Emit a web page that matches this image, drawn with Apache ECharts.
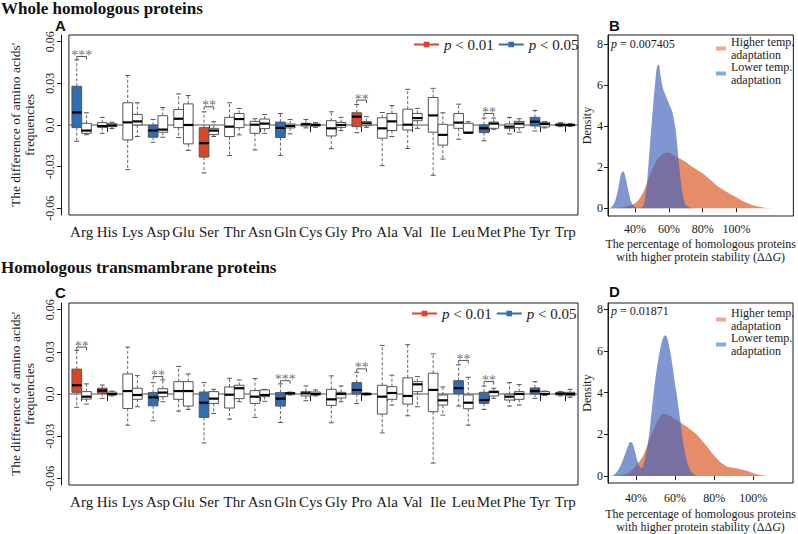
<!DOCTYPE html>
<html><head><meta charset="utf-8">
<script src="https://cdn.jsdelivr.net/npm/echarts@6/dist/echarts.min.js"></script>
<style>html,body{margin:0;padding:0;background:#fff}#c{width:798px;height:534px}</style>
</head><body><div id="c"></div>
<script>
// ---------------- data ----------------
const categories = ['Arg','His','Lys','Asp','Glu','Ser','Thr','Asn','Gln','Cys','Gly','Pro','Ala','Val','Ile','Leu','Met','Phe','Tyr','Trp'];
const yTickValues = [-0.06, -0.03, 0, 0.03, 0.06];
const yTickLabels = ['-0.06', '-0.03', '0.0', '0.03', '0.06'];
const densXTicks = [40, 60, 80, 100];
const densYTicks = [0, 2, 4, 6, 8];
const zeroRef = [0];
const pLegendNames = ['p < 0.01', 'p < 0.05'];
const densNames = ['Higher temp.\nadaptation', 'Lower temp.\nadaptation'];
const pTextB = '0.007405';
const pTextD = '0.01871';

// Panel A: [min, q1, median, q3, max]
const A_left = [
  [-0.0117,-0.0019,0.009,0.0279,0.0469],
  [-0.006,-0.0017,-0.0007,0.0017,0.0055],
  [-0.0321,-0.0107,0.0019,0.016,0.0357],
  [-0.0124,-0.0088,-0.004,-0.0002,0.004],
  [-0.009,-0.0019,0.0045,0.0112,0.0224],
  [-0.0345,-0.0231,-0.0131,-0.0019,0.0095],
  [-0.022,-0.0083,-0.0012,0.0055,0.016],
  [-0.0179,-0.006,0.0002,0.0026,0.0045],
  [-0.0219,-0.009,-0.0021,0.0021,0.0083],
  [-0.0021,-0.0007,0.0005,0.0012,0.004],
  [-0.0171,-0.0079,-0.0024,0.0031,0.0095],
  [-0.0055,-0.0012,0.006,0.0088,0.0148],
  [-0.0293,-0.0095,-0.0024,0.0052,0.009],
  [-0.0169,-0.0036,0.0002,0.0114,0.0257],
  [-0.0362,-0.0052,0.0069,0.0198,0.0264],
  [-0.0102,-0.0024,0.0017,0.0083,0.015],
  [-0.0114,-0.0055,-0.0024,0.0,0.005],
  [-0.0064,-0.0026,-0.0012,0.0007,0.0055],
  [-0.0043,-0.0007,0.0024,0.0055,0.0105],
  [-0.0012,-0.0007,0.0002,0.0007,0.0017]
];
const A_right = [
  [-0.007,-0.006,-0.004,0.0012,0.0088],
  [-0.0025,-0.0012,-0.0003,0.001,0.002],
  [-0.0083,0.0,0.0026,0.0076,0.016],
  [-0.0088,-0.0052,-0.0033,0.0067,0.0126],
  [-0.0183,-0.0136,0.0,0.0152,0.0212],
  [-0.0083,-0.0069,-0.004,-0.0024,0.0024],
  [-0.0071,-0.0019,0.0043,0.0083,0.0119],
  [-0.006,-0.0026,0.001,0.0043,0.0076],
  [-0.0064,-0.0021,-0.0007,0.0007,0.004],
  [-0.0017,-0.0007,0.0,0.0007,0.0017],
  [-0.004,-0.0017,0.0,0.0019,0.0055],
  [-0.0017,-0.0005,0.0012,0.0024,0.006],
  [-0.0083,-0.004,0.0026,0.0083,0.014],
  [-0.0024,0.0031,0.005,0.0083,0.0119],
  [-0.0245,-0.0145,-0.0071,0.0005,0.0088],
  [-0.006,-0.0057,-0.0055,0.0012,0.0024],
  [-0.0031,-0.0024,0.001,0.0021,0.005],
  [-0.0052,-0.0019,0.001,0.0026,0.0045],
  [-0.0021,-0.0014,0.0007,0.0019,0.0024],
  [-0.001,-0.0005,0.0,0.0005,0.001]
];
const A_colors = ['b','w','w','b','w','r','w','w','b','w','w','r','w','w','w','w','b','w','b','w'];
const A_sig = [['Arg',0.0493,'***'],['Ser',0.0131,'**'],['Pro',0.0179,'**'],['Met',0.0083,'**']];

// Panel C
const C_left = [
  [-0.0095,0.0012,0.0062,0.0177,0.031],
  [-0.0031,0.0005,0.0024,0.0041,0.0064],
  [-0.0222,-0.0103,0.0021,0.0143,0.0334],
  [-0.0191,-0.0084,-0.0024,0.001,0.0081],
  [-0.0122,-0.0038,0.0021,0.0088,0.0196],
  [-0.0348,-0.0167,-0.0062,0.0014,0.0081],
  [-0.0179,-0.01,-0.0005,0.005,0.0112],
  [-0.0167,-0.0067,-0.0019,0.0024,0.011],
  [-0.0203,-0.0086,-0.0033,0.001,0.0072],
  [-0.0048,-0.0014,0.0005,0.0017,0.0057],
  [-0.0205,-0.0081,-0.0038,0.0033,0.0129],
  [-0.0067,0.0,0.0029,0.0081,0.0155],
  [-0.0277,-0.0143,-0.0019,0.0062,0.0346],
  [-0.0155,-0.0072,-0.0014,0.0115,0.0351],
  [-0.0492,-0.0126,0.0029,0.0148,0.0286],
  [-0.0086,0.0002,0.0041,0.0095,0.0208],
  [-0.011,-0.0067,-0.0043,0.0012,0.0057],
  [-0.0086,-0.0043,-0.0019,-0.0002,0.0081],
  [-0.0031,0.0,0.0021,0.0043,0.0088],
  [-0.0014,-0.0007,0.0002,0.0012,0.0017]
];
const C_right = [
  [-0.0072,-0.0036,-0.0019,0.0017,0.0072],
  [-0.0014,-0.0007,0.0,0.0014,0.0021],
  [-0.0091,-0.0038,-0.0007,0.0041,0.0131],
  [-0.0055,-0.0019,0.001,0.0038,0.01],
  [-0.011,-0.0086,0.0021,0.0088,0.0143],
  [-0.0138,-0.0067,-0.0033,0.0017,0.0033],
  [-0.0055,-0.0033,0.0041,0.0062,0.01],
  [-0.0052,-0.0019,-0.0007,0.0029,0.0033],
  [-0.0007,-0.0002,0.0005,0.001,0.0014],
  [-0.0014,-0.0007,0.0,0.0014,0.0029],
  [-0.0055,-0.0029,0.0,0.0012,0.0057],
  [-0.0007,-0.0005,0.0,0.0005,0.0007],
  [-0.0079,-0.0038,0.0007,0.0052,0.0134],
  [-0.0091,0.0017,0.0069,0.0088,0.0124],
  [-0.015,-0.0079,-0.0045,-0.0007,0.005],
  [-0.0222,-0.0105,-0.0062,-0.0007,0.0119],
  [-0.0031,-0.0014,0.0014,0.0021,0.0041],
  [-0.0079,-0.0038,0.0,0.0017,0.0067],
  [-0.001,-0.0002,0.0,0.0017,0.0021],
  [-0.0024,-0.0012,0.0,0.0012,0.0033]
];
const C_colors = ['r','r','w','b','w','b','w','w','b','w','w','b','w','w','w','b','b','w','b','w'];
const C_sig = [['Arg',0.0334,'**'],['Asp',0.0124,'**'],['Gln',0.0095,'***'],['Pro',0.0179,'**'],['Leu',0.0239,'**'],['Met',0.0088,'**']];

// Density panels: [percentage, density]
const B_high = [[24,0],[30,0.02],[34,0.06],[38,0.15],[40,0.25],[42,0.4],[44,0.65],[46,1.0],[48,1.45],[50,1.85],[52,2.2],[54,2.45],[56,2.62],[58,2.7],[60,2.7],[62,2.63],[64,2.52],[66,2.43],[68,2.35],[70,2.25],[72,2.12],[74,2.0],[76,1.9],[78,1.8],[80,1.7],[82,1.56],[84,1.42],[86,1.27],[88,1.12],[90,1.0],[92,0.9],[94,0.8],[96,0.7],[98,0.6],[100,0.52],[103,0.38],[106,0.26],[109,0.16],[112,0.09],[115,0.04],[118,0.015],[122,0]];
const B_low = [[24,0],[26,0.05],[28,0.3],[30,0.95],[31,1.4],[32,1.72],[33,1.8],[34,1.62],[35,1.25],[36,0.85],[37,0.5],[38,0.25],[40,0.06],[42,0.02],[44,0.05],[45,0.15],[46,0.5],[47,1.2],[48,2.2],[49,3.3],[50,4.3],[51,5.3],[52,6.2],[53,6.9],[54,7.0],[55,6.5],[56,6.0],[57,5.7],[58,5.5],[59,5.3],[60,5.1],[61,4.9],[62,4.7],[63,4.3],[64,3.8],[65,3.0],[66,2.1],[67,1.3],[68,0.7],[69,0.35],[70,0.15],[72,0.03],[75,0]];
const D_high = [[30,0],[33,0.05],[36,0.15],[38,0.3],[40,0.5],[42,0.72],[44,1.05],[46,1.5],[48,2.0],[50,2.45],[52,2.8],[54,2.97],[56,2.95],[58,2.85],[60,2.73],[62,2.6],[64,2.48],[66,2.36],[68,2.22],[70,2.08],[72,1.9],[74,1.68],[76,1.45],[78,1.2],[80,0.98],[82,0.78],[84,0.6],[86,0.48],[88,0.42],[90,0.39],[92,0.36],[94,0.32],[96,0.27],[98,0.21],[100,0.14],[102,0.09],[104,0.05],[106,0.02],[109,0]];
const D_low = [[27,0],[29,0.08],[31,0.3],[33,0.7],[35,1.2],[36,1.45],[37,1.62],[38,1.6],[39,1.35],[40,1.0],[41,0.65],[42,0.42],[43,0.4],[44,0.6],[45,1.0],[46,1.55],[47,2.2],[48,3.1],[49,3.95],[50,4.7],[51,5.35],[52,5.9],[53,6.35],[54,6.65],[55,6.75],[56,6.6],[57,6.2],[58,5.7],[59,5.05],[60,4.4],[61,3.8],[62,3.1],[63,2.45],[64,1.7],[65,1.15],[66,0.75],[67,0.45],[68,0.25],[70,0.06],[72,0]];

// ---------------- styling ----------------
const FONT = 'Liberation Serif';
const SANS = 'Liberation Sans';
const INK = '#1a1a1a';
const FILL = { r: '#d8472b', b: '#2f6db5', w: '#ffffff' };
const RED = '#d8472b', BLUE = '#2f6db5';
const ORANGE = '#e68c69', DBLUE = 'rgb(66,98,188)';

function boxRender(side, cols) {
  return function (params, api) {
    const i = api.value(0);
    const band = api.size([1, 0])[0];
    const w = band * 0.38;
    const cx = api.coord([i, 0])[0];
    const x0 = side === 0 ? cx - w : cx;
    const xm = x0 + w / 2;
    const yv = k => api.coord([i, api.value(k)])[1];
    const yMin = yv(1), yQ1 = yv(2), yMed = yv(3), yQ3 = yv(4), yMax = yv(5);
    const cap = w * 0.25;
    const st = { stroke: '#555', lineWidth: 1, fill: null };
    const dash = { stroke: '#666', lineWidth: 1, lineDash: [3, 2], fill: null };
    return {
      type: 'group',
      children: [
        { type: 'line', shape: { x1: xm, y1: yQ3, x2: xm, y2: yMax }, style: dash },
        { type: 'line', shape: { x1: xm, y1: yQ1, x2: xm, y2: yMin }, style: dash },
        { type: 'line', shape: { x1: xm - cap, y1: yMax, x2: xm + cap, y2: yMax }, style: st },
        { type: 'line', shape: { x1: xm - cap, y1: yMin, x2: xm + cap, y2: yMin }, style: st },
        { type: 'rect', shape: { x: x0, y: yQ3, width: w, height: Math.max(yQ1 - yQ3, 1) },
          style: { fill: FILL[cols[params.dataIndex]], stroke: '#555', lineWidth: 1 } },
        { type: 'line', shape: { x1: x0, y1: yMed, x2: x0 + w, y2: yMed }, style: { stroke: '#000', lineWidth: 2.2 } }
      ]
    };
  };
}
function bracketRender(params, api) {
  const i = api.value(0);
  const band = api.size([1, 0])[0];
  const w = band * 0.38;
  const p = api.coord([i, api.value(1)]);
  const cx = p[0], y = p[1];
  const xl = cx - w / 2, xr = cx + w / 2;
  return { type: 'polyline', shape: { points: [[xl, y + 3], [xl, y], [xr, y], [xr, y + 3]] },
    style: { stroke: '#555', fill: null, lineWidth: 1 } };
}
function zeroRender(params, api) {
  const y = api.coord([0, api.value(1)])[1];
  const cs = params.coordSys;
  return { type: 'line', shape: { x1: cs.x, y1: y, x2: cs.x + cs.width, y2: y },
    style: { stroke: '#8a8a8a', lineWidth: 1.5 } };
}
function yLabel(v) {
  const k = yTickValues.findIndex(t => Math.abs(t - v) < 1e-9);
  return k >= 0 ? yTickLabels[k] : '';
}
function boxXAxis(g) {
  return { gridIndex: g, type: 'category', data: categories,
    axisLine: { show: false },
    axisTick: { show: true, alignWithLabel: true, length: 7, lineStyle: { color: INK } },
    axisLabel: { interval: 0, margin: 9, fontSize: 15, fontFamily: FONT, color: INK },
    splitLine: { show: false } };
}
function boxYAxis(g) {
  return { gridIndex: g, type: 'value', min: -0.0648, max: 0.0648, offset: 8,
    axisLine: { show: true, lineStyle: { color: INK } },
    axisTick: { show: true, length: 4, customValues: yTickValues, lineStyle: { color: INK } },
    axisLabel: { customValues: yTickValues, rotate: 90, margin: 5, formatter: yLabel,
      fontSize: 12, fontFamily: FONT, color: INK },
    splitLine: { show: false },
    name: "The difference of amino acids'\nfrequencies", nameLocation: 'middle', nameRotate: 90, nameGap: 23,
    nameTextStyle: { fontSize: 13.5, lineHeight: 14, fontFamily: FONT, color: INK } };
}
function densXAxis(g, mn, mx, margin, gap) {
  return { gridIndex: g, type: 'value', min: mn, max: mx,
    axisLine: { show: false },
    axisTick: { show: true, length: 4, customValues: densXTicks, lineStyle: { color: INK } },
    axisLabel: { customValues: densXTicks, formatter: '{value}%', margin: margin, fontSize: 12, fontFamily: FONT, color: INK },
    splitLine: { show: false },
    name: 'The percentage of homologous proteins\nwith higher protein stability (ΔΔ{i|G})',
    nameLocation: 'middle', nameGap: gap,
    nameTextStyle: { fontSize: 12, lineHeight: 13, fontFamily: FONT, color: INK,
      rich: { i: { fontSize: 12, lineHeight: 13, fontFamily: FONT, fontStyle: 'italic', color: INK } } } };
}
function densYAxis(g, mn, mx) {
  return { gridIndex: g, type: 'value', min: mn, max: mx,
    axisLine: { show: true, lineStyle: { color: INK } },
    axisTick: { show: true, length: 4, customValues: densYTicks, lineStyle: { color: INK } },
    axisLabel: { customValues: densYTicks, margin: 5, fontSize: 12, fontFamily: FONT, color: INK },
    splitLine: { show: false },
    name: 'Density', nameLocation: 'middle', nameRotate: 90, nameGap: 14,
    nameTextStyle: { fontSize: 12, fontFamily: FONT, color: INK } };
}
const gridStyle = { show: true, borderColor: INK, borderWidth: 1, backgroundColor: 'transparent' };
const toBox = arr => arr.map((b, i) => [i].concat(b));
const toSig = arr => arr.map(s => [categories.indexOf(s[0]), s[1]]);

function boxSeries(ax, left, right, cols, sig) {
  return [
    { type: 'custom', xAxisIndex: ax, yAxisIndex: ax, z: 1, silent: true,
      data: zeroRef.map(v => [0, v]), encode: { x: 0, y: 1 }, renderItem: zeroRender },
    { type: 'custom', xAxisIndex: ax, yAxisIndex: ax, z: 3, silent: true,
      data: toBox(left), encode: { x: 0, y: [1, 2, 3, 4, 5] }, renderItem: boxRender(0, cols) },
    { type: 'custom', xAxisIndex: ax, yAxisIndex: ax, z: 3, silent: true,
      data: toBox(right), encode: { x: 0, y: [1, 2, 3, 4, 5] }, renderItem: boxRender(1, right.map(() => 'w')) },
    { type: 'custom', xAxisIndex: ax, yAxisIndex: ax, z: 4, silent: true,
      data: toSig(sig), encode: { x: 0, y: 1 }, renderItem: bracketRender },
    { type: 'scatter', xAxisIndex: ax, yAxisIndex: ax, z: 5, silent: true, symbolSize: 0,
      data: toSig(sig),
      label: { show: true, position: 'inside', offset: [0, -1],
        formatter: p => sig[p.dataIndex][2],
        color: '#4a4a4a', fontSize: 14, fontFamily: FONT, textBorderWidth: 0 } }
  ];
}
function densSeries(ax, high, low) {
  return [
    { type: 'line', name: densNames[0], xAxisIndex: ax, yAxisIndex: ax, data: high, smooth: 0.35,
      showSymbol: false, color: ORANGE, lineStyle: { width: 0 }, areaStyle: { color: ORANGE, opacity: 1 }, z: 2, silent: true },
    { type: 'line', name: densNames[1], xAxisIndex: ax, yAxisIndex: ax, data: low, smooth: 0.35,
      showSymbol: false, color: DBLUE, lineStyle: { width: 0 }, areaStyle: { color: DBLUE, opacity: 0.67 }, z: 3, silent: true }
  ];
}
function pLegend(top, left) {
  return { left: left, top: top, padding: 0, data: pLegendNames, itemWidth: 25, itemHeight: 7, itemGap: 4,
    selectedMode: false,
    formatter: n => n.replace('p', '{i|p}'),
    textStyle: { fontSize: 15, fontFamily: FONT, color: INK,
      rich: { i: { fontSize: 15, fontFamily: FONT, fontStyle: 'italic', color: INK } } } };
}
function dLegend(top) {
  return { left: 716, top: top, padding: 0, icon: 'rect', itemWidth: 10, itemHeight: 4, itemGap: 0,
    orient: 'vertical', selectedMode: false,
    data: [{ name: densNames[0], itemStyle: { color: '#f0a68e' } }, { name: densNames[1], itemStyle: { color: '#7fb0e2' } }],
    textStyle: { fontSize: 12, lineHeight: 12.5, fontFamily: FONT, color: INK } };
}
function titleText(text, left, top, size, family, weight) {
  return { text: text, left: left, top: top, padding: 0,
    textStyle: { fontSize: size, fontFamily: family, fontWeight: weight, color: '#111' } };
}
function pTitle(val, left, top) {
  return { text: '{i|p} = ' + val, left: left, top: top, padding: 0,
    textStyle: { fontSize: 12, fontFamily: FONT, fontWeight: 'normal', color: INK,
      rich: { i: { fontSize: 12, fontFamily: FONT, fontStyle: 'italic', color: INK } } } };
}

const option = {
  animation: false,
  backgroundColor: '#fff',
  title: [
    titleText('Whole homologous proteins', 1, 0, 17, FONT, 'bold'),
    titleText('A', 55, 18, 15, SANS, 'bold'),
    titleText('B', 609, 18, 15, SANS, 'bold'),
    titleText('Homologous transmambrane proteins', 1, 259, 17, FONT, 'bold'),
    titleText('C', 55, 285, 15, SANS, 'bold'),
    titleText('D', 609, 284, 15, SANS, 'bold'),
    pTitle(pTextB, 611, 38),
    pTitle(pTextD, 611, 305)
  ],
  legend: [pLegend(37, 413), pLegend(306, 411), dLegend(36), dLegend(307)],
  grid: [
    Object.assign({ left: 52, top: 35, width: 526, height: 180 }, gridStyle),
    Object.assign({ left: 608, top: 35, width: 186, height: 181 }, gridStyle),
    Object.assign({ left: 50, top: 303, width: 528, height: 182 }, gridStyle),
    Object.assign({ left: 608, top: 303, width: 185, height: 180 }, gridStyle)
  ],
  xAxis: [boxXAxis(0), densXAxis(1, 24, 133.6, 7, 21), boxXAxis(2), densXAxis(3, 25.7, 120.3, 9, 24)],
  yAxis: [boxYAxis(0), densYAxis(1, -0.38, 8.43), boxYAxis(2), densYAxis(3, -0.33, 8.29)],
  series: [].concat(
    boxSeries(0, A_left, A_right, A_colors, A_sig),
    densSeries(1, B_high, B_low),
    boxSeries(2, C_left, C_right, C_colors, C_sig),
    densSeries(3, D_high, D_low),
    [
      { type: 'line', name: pLegendNames[0], xAxisIndex: 0, yAxisIndex: 0, data: [], color: RED,
        symbol: 'rect', symbolSize: 6, lineStyle: { width: 2.5, color: RED } },
      { type: 'line', name: pLegendNames[1], xAxisIndex: 0, yAxisIndex: 0, data: [], color: BLUE,
        symbol: 'rect', symbolSize: 6, lineStyle: { width: 2.5, color: BLUE } }
    ]
  )
};
const chart = echarts.init(document.getElementById('c'), null, { renderer: 'svg' });
chart.setOption(option);
</script></body></html>
